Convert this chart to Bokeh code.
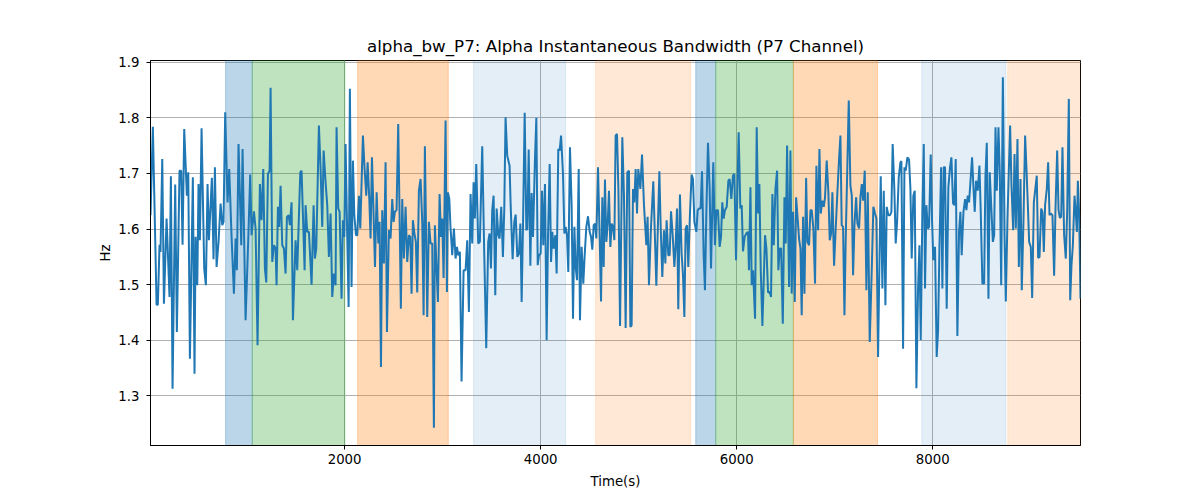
from bokeh.plotting import figure
from bokeh.models import BoxAnnotation, FixedTicker, Range1d
from bokeh.embed import file_html
from bokeh.resources import INLINE

title = "alpha_bw_P7: Alpha Instantaneous Bandwidth (P7 Channel)"

times = [
    20, 44, 82, 95, 112, 122, 140, 157, 184, 214, 228, 245, 272, 289, 316, 333, 347, 364, 391, 405,
    422, 452, 469, 480, 497, 510, 524, 541, 568, 585, 602, 616, 646, 663, 677, 694, 714, 735, 752, 765,
    782, 806, 823, 847, 871, 888, 901, 918, 946, 959, 990, 1017, 1037, 1051, 1075, 1092, 1112, 1136, 1153, 1170,
    1187, 1201, 1218, 1235,
    1245, 1262, 1279, 1296, 1306, 1320, 1333, 1347, 1364, 1381, 1398, 1412, 1429, 1442, 1459, 1473, 1500, 1517,
    1548, 1561, 1575, 1592, 1602, 1619, 1636, 1663, 1684, 1697, 1711, 1738, 1755, 1772, 1786, 1806, 1823, 1840,
    1857, 1874, 1891, 1908, 1918, 1935, 1949, 1969, 1983, 1997, 2010, 2027, 2041, 2054, 2071, 2085, 2099, 2116,
    2129, 2146, 2160, 2187, 2204, 2221, 2235, 2252, 2265, 2279, 2293, 2310, 2327, 2344, 2357, 2371, 2384, 2401,
    2418, 2432, 2452,
    2469, 2486, 2500, 2513, 2530, 2547, 2561, 2574, 2588, 2605, 2622, 2639, 2656, 2670, 2683, 2697, 2710, 2727,
    2741, 2758, 2775, 2792, 2806, 2819, 2843, 2860, 2877, 2894, 2911, 2921, 2938, 2952, 2969, 2983, 2996, 3010,
    3030, 3044, 3054, 3068, 3081, 3098, 3115, 3132, 3146, 3159, 3176, 3193, 3214, 3234, 3251, 3268, 3285, 3302,
    3316, 3329, 3343, 3363, 3380, 3404, 3425, 3445, 3465, 3479, 3493, 3506, 3520, 3537, 3551, 3568, 3581, 3598,
    3615, 3629, 3642, 3659, 3683,
    3694, 3714, 3731, 3745, 3762, 3779, 3793, 3806, 3820, 3837, 3854, 3864, 3878, 3895, 3908, 3922, 3942, 3956,
    3970, 3983, 4000, 4014, 4027, 4044, 4061, 4075, 4092, 4106, 4119, 4133, 4150, 4163, 4180, 4194, 4208, 4228,
    4242, 4255, 4269, 4282, 4299, 4316, 4330, 4344, 4357, 4371, 4388, 4401, 4418, 4435, 4449, 4466, 4483, 4500,
    4514, 4527, 4541, 4555, 4568, 4585, 4602, 4616, 4629, 4643, 4656, 4670, 4684, 4697, 4711, 4725, 4738, 4752,
    4765, 4779, 4793, 4810, 4833, 4850, 4867, 4884, 4901,
    4915, 4928, 4942, 4955, 4969, 4983, 4996, 5017, 5034, 5054, 5078, 5091, 5105, 5125, 5149, 5180, 5197, 5211,
    5224, 5241, 5258, 5272, 5285, 5302, 5316, 5330, 5347, 5364, 5377, 5391, 5404, 5421, 5438, 5452, 5466, 5479,
    5493, 5506, 5523, 5540, 5554, 5568, 5588, 5602, 5615, 5632, 5646, 5663, 5676, 5690, 5707, 5724, 5738, 5761,
    5778, 5792, 5809, 5826, 5840, 5853, 5867, 5880, 5898, 5915, 5928, 5945, 5962, 5976, 5993, 6006, 6020, 6037,
    6051, 6064, 6081, 6098, 6115, 6125,
    6140, 6153, 6167, 6187, 6204, 6218, 6231, 6245, 6262, 6289, 6303, 6320, 6337, 6350, 6364, 6378, 6395, 6412,
    6425, 6439, 6453, 6470, 6487, 6500, 6514, 6534, 6548, 6561, 6575, 6592, 6606, 6619, 6636, 6650, 6663, 6677,
    6691, 6708, 6721, 6738, 6752, 6765, 6782, 6799, 6813, 6830, 6844, 6857, 6874, 6888, 6901, 6918, 6935, 6949,
    6963, 6976, 6993, 7010, 7027, 7044, 7058, 7071, 7085, 7099, 7112, 7129, 7143, 7160, 7174, 7187, 7201, 7218,
    7231, 7248, 7262, 7276, 7289, 7306, 7323, 7337, 7357,
    7377, 7394, 7411, 7425, 7442, 7455, 7469, 7486, 7500, 7517, 7530, 7547, 7564, 7578, 7591, 7608, 7622, 7636,
    7653, 7670, 7680, 7697, 7711, 7724, 7741, 7758, 7772, 7785, 7802, 7816, 7833, 7850, 7864, 7877, 7894, 7908,
    7921, 7935, 7949, 7962, 7979, 7993, 8006, 8023, 8040, 8054, 8068, 8085, 8098, 8112, 8125, 8142, 8159, 8176,
    8190, 8207, 8221, 8234, 8251, 8268, 8282, 8295, 8313, 8330, 8343, 8357, 8370, 8384, 8401, 8415, 8428, 8442,
    8459, 8476, 8489, 8506, 8524, 8537, 8551, 8568, 8581,
    8613, 8626, 8640, 8653, 8670, 8684, 8698, 8715, 8732, 8745, 8762, 8789, 8803, 8820, 8834, 8847, 8864, 8878,
    8895, 8908, 8925, 8942, 8956, 8970, 8983, 9000, 9014, 9031, 9048, 9061, 9075, 9089, 9106, 9119, 9133, 9146,
    9163, 9177, 9191, 9204, 9221, 9238, 9252, 9269, 9283, 9296, 9310, 9323, 9340, 9357, 9371, 9388, 9402, 9415,
    9429, 9446, 9459, 9470, 9480, 9493, 9507,
]

alpha_bw = [
    1.625, 1.784, 1.464, 1.464, 1.572, 1.559, 1.726, 1.466, 1.619, 1.478, 1.695, 1.313, 1.680, 1.415, 1.705, 1.705, 1.572, 1.780, 1.660, 1.702,
    1.367, 1.693, 1.340, 1.586, 1.499, 1.681, 1.580, 1.781, 1.529, 1.499, 1.681, 1.580, 1.692, 1.546, 1.711, 1.532, 1.577, 1.646, 1.607, 1.613,
    1.810, 1.648, 1.708, 1.586, 1.484, 1.583, 1.526, 1.753, 1.571, 1.744, 1.436, 1.580, 1.698, 1.589, 1.632, 1.601, 1.391, 1.681, 1.616, 1.708,
    1.529, 1.504, 1.699, 1.705,
    1.854, 1.541, 1.571, 1.565, 1.499, 1.640, 1.604, 1.678, 1.571, 1.565, 1.520, 1.622, 1.625, 1.607, 1.648, 1.436, 1.580, 1.526,
    1.702, 1.705, 1.625, 1.526, 1.643, 1.595, 1.595, 1.500, 1.643, 1.547, 1.565, 1.786, 1.708, 1.604, 1.741, 1.684, 1.643, 1.550,
    1.628, 1.478, 1.520, 1.499, 1.783, 1.637, 1.631, 1.475, 1.616, 1.586, 1.753, 1.586, 1.460, 1.852, 1.496, 1.723, 1.625, 1.589,
    1.589, 1.660, 1.601, 1.768, 1.708, 1.660, 1.720, 1.654, 1.583, 1.729, 1.643, 1.532, 1.666, 1.574, 1.613, 1.352, 1.634, 1.538,
    1.720, 1.415, 1.598,
    1.583, 1.654, 1.613, 1.631, 1.634, 1.789, 1.625, 1.457, 1.654, 1.547, 1.640, 1.541, 1.589, 1.586, 1.484, 1.616, 1.595, 1.577,
    1.486, 1.669, 1.690, 1.613, 1.445, 1.749, 1.442, 1.613, 1.574, 1.574, 1.243, 1.607, 1.529, 1.469, 1.663, 1.586, 1.619, 1.512,
    1.795, 1.487, 1.666, 1.654, 1.601, 1.553, 1.601, 1.547, 1.568, 1.553, 1.559, 1.326, 1.526, 1.526, 1.580, 1.451, 1.663, 1.574,
    1.684, 1.619, 1.717, 1.574, 1.577, 1.749, 1.553, 1.386, 1.577, 1.592, 1.529, 1.634, 1.660, 1.481, 1.637, 1.589, 1.583, 1.640,
    1.550, 1.637, 1.801, 1.732, 1.714,
    1.643, 1.546, 1.613, 1.626, 1.550, 1.556, 1.610, 1.469, 1.607, 1.809, 1.598, 1.601, 1.743, 1.534, 1.665, 1.586, 1.726, 1.800,
    1.535, 1.553, 1.556, 1.669, 1.571, 1.681, 1.400, 1.586, 1.717, 1.541, 1.595, 1.565, 1.589, 1.520, 1.744, 1.741, 1.768, 1.699,
    1.592, 1.604, 1.589, 1.523, 1.747, 1.643, 1.439, 1.604, 1.532, 1.508, 1.708, 1.436, 1.568, 1.502, 1.553, 1.604, 1.623, 1.595,
    1.586, 1.563, 1.607, 1.610, 1.583, 1.711, 1.586, 1.470, 1.657, 1.532, 1.689, 1.577, 1.610, 1.669, 1.568, 1.610, 1.604, 1.580,
    1.768, 1.771, 1.672, 1.426, 1.765, 1.660, 1.422, 1.702, 1.705,
    1.424, 1.427, 1.672, 1.648, 1.708, 1.628, 1.708, 1.672, 1.734, 1.643, 1.571, 1.622, 1.499, 1.601, 1.686, 1.498, 1.613, 1.704,
    1.607, 1.514, 1.598, 1.538, 1.616, 1.553, 1.553, 1.632, 1.589, 1.532, 1.571, 1.637, 1.456, 1.662, 1.556, 1.517, 1.442, 1.601,
    1.607, 1.532, 1.628, 1.698, 1.690, 1.613, 1.595, 1.634, 1.637, 1.637, 1.704, 1.553, 1.490, 1.628, 1.755, 1.672, 1.529, 1.720,
    1.571, 1.634, 1.634, 1.568, 1.586, 1.648, 1.619, 1.634, 1.640, 1.687, 1.690, 1.654, 1.696, 1.699, 1.544, 1.666, 1.774, 1.637,
    1.643, 1.560, 1.586, 1.592, 1.595, 1.526,
    1.675, 1.499, 1.526, 1.439, 1.783, 1.628, 1.681, 1.529, 1.426, 1.589, 1.565, 1.486, 1.487, 1.478, 1.663, 1.571, 1.672, 1.705,
    1.526, 1.565, 1.565, 1.430, 1.657, 1.574, 1.750, 1.496, 1.741, 1.484, 1.631, 1.469, 1.657, 1.625, 1.583, 1.565, 1.445, 1.622,
    1.484, 1.692, 1.577, 1.571, 1.634, 1.634, 1.601, 1.502, 1.714, 1.598, 1.744, 1.628, 1.651, 1.640, 1.657, 1.723, 1.666, 1.580,
    1.592, 1.666, 1.534, 1.601, 1.666, 1.726, 1.768, 1.607, 1.604, 1.445, 1.583, 1.717, 1.831, 1.678, 1.660, 1.517, 1.607, 1.657,
    1.610, 1.601, 1.657, 1.681, 1.651, 1.705, 1.490, 1.666, 1.397,
    1.523, 1.640, 1.628, 1.619, 1.370, 1.529, 1.695, 1.493, 1.669, 1.463, 1.640, 1.625, 1.625, 1.631, 1.753, 1.672, 1.574, 1.613,
    1.693, 1.720, 1.722, 1.385, 1.711, 1.705, 1.729, 1.725, 1.672, 1.547, 1.660, 1.669, 1.314, 1.493, 1.571, 1.400, 1.631, 1.753,
    1.493, 1.643, 1.601, 1.604, 1.734, 1.613, 1.544, 1.568, 1.370, 1.418, 1.565, 1.711, 1.493, 1.711, 1.711, 1.457, 1.675, 1.711,
    1.729, 1.646, 1.643, 1.726, 1.408, 1.595, 1.631, 1.553, 1.631, 1.654, 1.634, 1.660, 1.648, 1.684, 1.729, 1.675, 1.631, 1.687,
    1.669, 1.714, 1.634, 1.502, 1.502, 1.693, 1.755, 1.475, 1.702,
    1.577, 1.589, 1.783, 1.669, 1.783, 1.699, 1.499, 1.873, 1.589, 1.470, 1.619, 1.786, 1.678, 1.598, 1.735, 1.601, 1.762, 1.532,
    1.690, 1.490, 1.613, 1.768, 1.708, 1.643, 1.577, 1.568, 1.476, 1.648, 1.675, 1.696, 1.548, 1.550, 1.637, 1.631, 1.559, 1.643,
    1.672, 1.720, 1.625, 1.628, 1.625, 1.516, 1.637, 1.741, 1.634, 1.620, 1.622, 1.747, 1.589, 1.547, 1.631, 1.834, 1.472, 1.535,
    1.571, 1.660, 1.628, 1.595, 1.687, 1.628, 1.475,
]

span_starts = [786, 1058, 2133, 3316, 4561, 5582, 5786, 6578, 7888, 8765]
span_ends = [1058, 2003, 3058, 4255, 5531, 5786, 6578, 7436, 8745, 9600]
span_kinds = ["blue", "green", "orange", "lightblue", "lightorange",
              "blue", "green", "orange", "lightblue", "lightorange"]

x_ticks = [2000, 4000, 6000, 8000]
y_ticks = [1.3, 1.4, 1.5, 1.6, 1.7, 1.8, 1.9]

kind_style = {
    "blue": ("#1f77b4", 0.3),
    "green": ("#2ca02c", 0.3),
    "orange": ("#ff7f0e", 0.3),
    "lightblue": ("#1f77b4", 0.12),
    "lightorange": ("#ff7f0e", 0.17),
}

FONT = "DejaVu Sans"

p = figure(width=1190, height=492, output_backend="svg", toolbar_location=None,
           x_range=Range1d(times[0], times[-1]), y_range=Range1d(1.211, 1.903),
           min_border_left=150, min_border_right=110, min_border_top=60, min_border_bottom=47)

p.title.text = title
p.title.text_font = FONT
p.title.text_font_size = "16.7px"
p.title.text_font_style = "normal"
p.title.align = "center"
p.title.text_color = "black"

for s, e, k in zip(span_starts, span_ends, span_kinds):
    c, a = kind_style[k]
    p.add_layout(BoxAnnotation(left=s, right=e, fill_color=c, fill_alpha=a,
                               line_color=c, line_alpha=a, line_width=1, level="underlay"))

p.line(times, alpha_bw, line_color="#1f77b4", line_width=2)

p.xaxis.ticker = FixedTicker(ticks=x_ticks)
p.yaxis.ticker = FixedTicker(ticks=y_ticks)
p.xaxis.axis_label = "Time(s)"
p.yaxis.axis_label = "Hz"
for ax in (p.xaxis, p.yaxis):
    ax.axis_label_text_font = FONT
    ax.axis_label_text_font_size = "13.3px"
    ax.axis_label_text_font_style = "normal"
    ax.axis_label_text_color = "black"
    ax.major_label_text_font = FONT
    ax.major_label_text_font_size = "13.3px"
    ax.major_label_text_color = "black"
    ax.axis_line_color = "black"
    ax.major_tick_line_color = "black"
    ax.major_tick_out = 4
    ax.major_tick_in = 0
    ax.minor_tick_line_color = None
p.yaxis.major_label_standoff = 7
p.xaxis.major_label_standoff = 4
p.yaxis.axis_label_standoff = 2
p.xaxis.axis_label_standoff = 7

p.grid.grid_line_color = "#b0b0b0"
p.grid.grid_line_width = 1
p.outline_line_color = "black"
p.outline_line_alpha = 1
p.outline_line_width = 1
p.background_fill_color = "white"
p.border_fill_color = "white"

open("out.html", "w").write(file_html(p, INLINE))
